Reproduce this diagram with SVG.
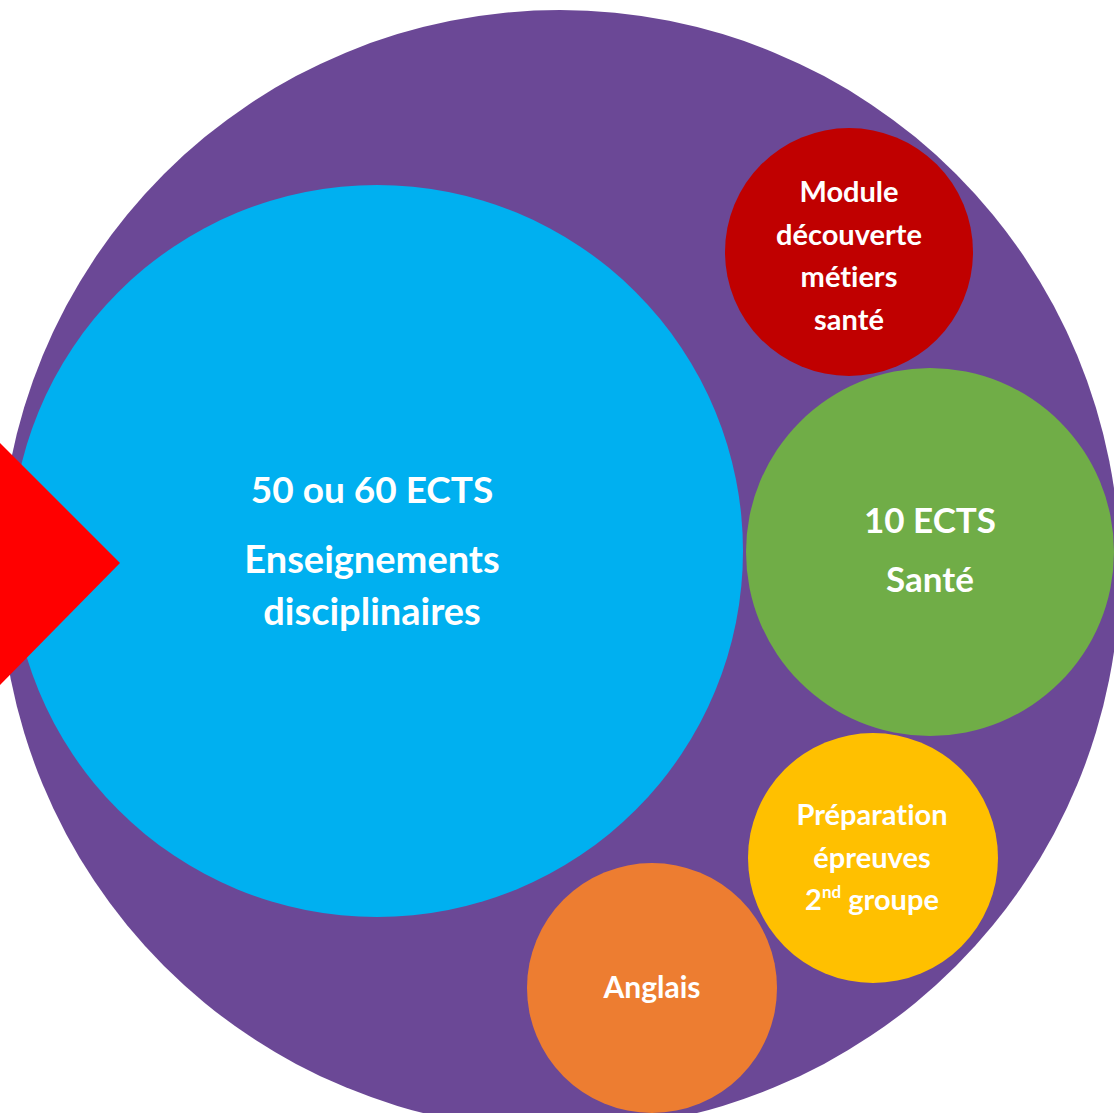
<svg xmlns="http://www.w3.org/2000/svg" width="1114" height="1113" viewBox="0 0 1114 1113">
<style>
.t{font-family:Lato,"Open Sans","Liberation Sans",sans-serif;font-weight:bold;fill:#ffffff;text-anchor:middle;font-variant-ligatures:none}
</style>
<rect x="0" y="0" width="1114" height="1113" fill="#ffffff"/>
<g id="outer"><circle cx="560" cy="570" r="560" fill="#6B4896"/></g>
<g id="disciplinaires">
<circle cx="377" cy="551" r="366" fill="#00B0F0"/>
<text class="t" font-size="37" x="372" y="503">50 ou 60 ECTS</text>
<text class="t" font-size="38" x="372" y="573">Enseignements</text>
<text class="t" font-size="38" x="372" y="625">disciplinaires</text>
</g>
<g id="arrow"><polygon points="0,443 120,563 0,685" fill="#FF0000"/></g>
<g id="module">
<circle cx="849" cy="252" r="124" fill="#C00000"/>
<text class="t" font-size="29" x="849" y="202">Module</text>
<text class="t" font-size="29" x="849" y="245">découverte</text>
<text class="t" font-size="29" x="849" y="287">métiers</text>
<text class="t" font-size="29" x="849" y="330">santé</text>
</g>
<g id="sante">
<circle cx="930" cy="552" r="184" fill="#70AD47"/>
<text class="t" font-size="35" x="930" y="533">10 ECTS</text>
<text class="t" font-size="35" x="930" y="592">Santé</text>
</g>
<g id="preparation">
<circle cx="873" cy="858" r="125" fill="#FFC000"/>
<text class="t" font-size="29" x="872" y="825">Préparation</text>
<text class="t" font-size="29" x="872" y="868">épreuves</text>
<text class="t" font-size="29" x="872" y="910">2<tspan font-size="17" dy="-12">nd</tspan><tspan dy="12"> groupe</tspan></text>
</g>
<g id="anglais">
<circle cx="652" cy="988" r="125" fill="#ED7D31"/>
<text class="t" font-size="30" x="652" y="998">Anglais</text>
</g>
<g id="connectors"></g>
</svg>
